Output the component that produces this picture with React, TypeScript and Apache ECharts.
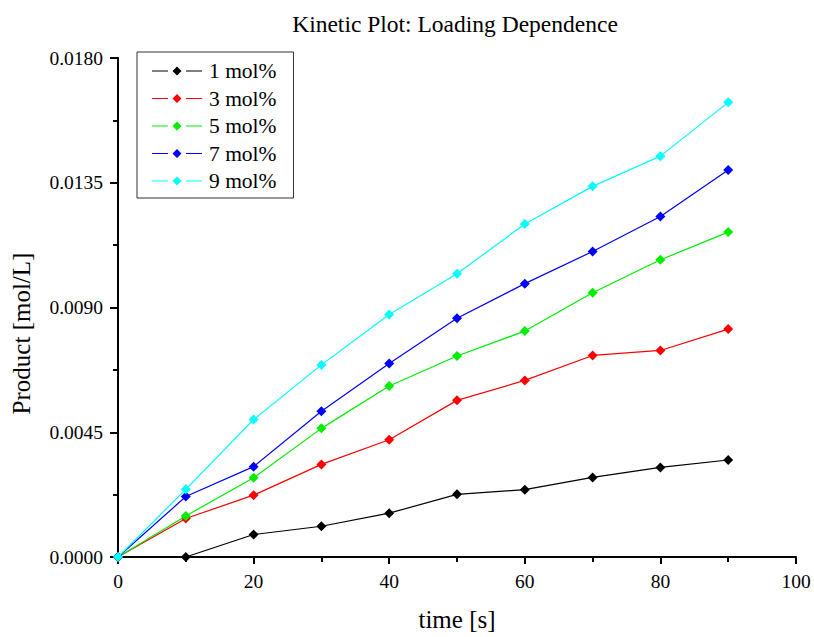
import React, { useEffect, useRef } from "react";
import * as echarts from "echarts";

const times = [0, 10, 20, 30, 40, 50, 60, 70, 80, 90];
const mol1 = [0, 0, 0.00081, 0.00111, 0.00158, 0.00226, 0.00243, 0.00287, 0.00323, 0.0035];
const mol3 = [0, 0.00139, 0.00223, 0.00334, 0.00423, 0.00565, 0.00637, 0.00727, 0.00745, 0.00822];
const mol5 = [0, 0.00148, 0.00286, 0.00464, 0.00617, 0.00725, 0.00815, 0.00953, 0.01072, 0.01172];
const mol7 = [0, 0.00218, 0.00326, 0.00526, 0.00698, 0.00861, 0.00986, 0.01102, 0.01228, 0.01396];
const mol9 = [0, 0.00244, 0.00496, 0.00693, 0.00875, 0.01022, 0.01201, 0.01337, 0.01446, 0.0164];

const seriesNames = ["1 mol%", "3 mol%", "5 mol%", "7 mol%", "9 mol%"];
const seriesValues = [mol1, mol3, mol5, mol7, mol9];
const seriesColors = ["#000000", "#ff0000", "#00ee00", "#0000ff", "#00ffff"];

const FONT = '"Liberation Serif", "Times New Roman", serif';
const LEGEND_ICON =
  "path://M0,4L16,4L16,5L0,5Z M20.5,4.5L25,0L29.5,4.5L25,9Z M34,4L50,4L50,5L34,5Z";

export default function App() {
  const ref = useRef<HTMLDivElement>(null);
  useEffect(() => {
    if (!ref.current) return;
    const chart = echarts.init(ref.current, undefined, { renderer: "svg" });
    chart.setOption({
      animation: false,
      backgroundColor: "#ffffff",
      textStyle: { fontFamily: FONT },
      title: {
        text: "Kinetic Plot: Loading Dependence",
        left: 450,
        textAlign: "center",
        top: 7,
        textStyle: { fontFamily: FONT, fontSize: 23.5, fontWeight: "normal", color: "#000" },
      },
      legend: {
        orient: "vertical",
        left: 137,
        top: 52,
        data: seriesNames,
        icon: LEGEND_ICON,
        itemWidth: 50,
        itemHeight: 9,
        itemGap: 5.5,
        padding: [8, 17, 6, 15],
        borderColor: "#333",
        borderWidth: 1,
        backgroundColor: "#ffffff",
        itemStyle: { borderWidth: 0 },
        textStyle: { fontFamily: FONT, fontSize: 21.5, color: "#000", padding: [0, 0, 0, 2] },
      },
      grid: { left: 118, right: 18, top: 58, bottom: 77, containLabel: false },
      xAxis: {
        type: "value",
        min: 0,
        max: 100,
        interval: 20,
        name: "time [s]",
        nameLocation: "middle",
        nameGap: 50,
        nameTextStyle: { fontFamily: FONT, fontSize: 25, color: "#000" },
        axisLine: { show: true, onZero: false, lineStyle: { color: "#000", width: 2 } },
        axisTick: { show: true, inside: false, length: 7, lineStyle: { color: "#000", width: 2 } },
        minorTick: { show: true, splitNumber: 2, length: 5, lineStyle: { color: "#000", width: 2 } },
        axisLabel: { fontFamily: FONT, fontSize: 19.5, color: "#000", margin: 14 },
        splitLine: { show: false },
      },
      yAxis: {
        type: "value",
        min: 0,
        max: 0.018,
        interval: 0.0045,
        name: "Product [mol/L]",
        nameLocation: "middle",
        nameGap: 84,
        nameRotate: 90,
        nameTextStyle: {
          fontFamily: FONT,
          fontSize: 25,
          color: "#000",
          padding: [0, 52, 0, 0],
        },
        axisLine: { show: true, onZero: false, lineStyle: { color: "#000", width: 2 } },
        axisTick: { show: true, inside: false, length: 8, lineStyle: { color: "#000", width: 2 } },
        minorTick: { show: true, splitNumber: 2, length: 5, lineStyle: { color: "#000", width: 2 } },
        axisLabel: {
          fontFamily: FONT,
          fontSize: 19.5,
          color: "#000",
          margin: 15,
          formatter: (v: number) => v.toFixed(4),
        },
        splitLine: { show: false },
      },
      series: seriesNames.map((name, i) => ({
        name,
        type: "line",
        data: times.map((t, j) => [t, seriesValues[i][j]]),
        symbol: "diamond",
        symbolSize: 10,
        showSymbol: true,
        itemStyle: { color: seriesColors[i] },
        lineStyle: { color: seriesColors[i], width: 1.2 },
        z: 2 + i,
      })),
    });
    return () => chart.dispose();
  }, []);
  return <div ref={ref} style={{ width: 814, height: 637, position: "absolute", left: 0, top: 0 }} />;
}
